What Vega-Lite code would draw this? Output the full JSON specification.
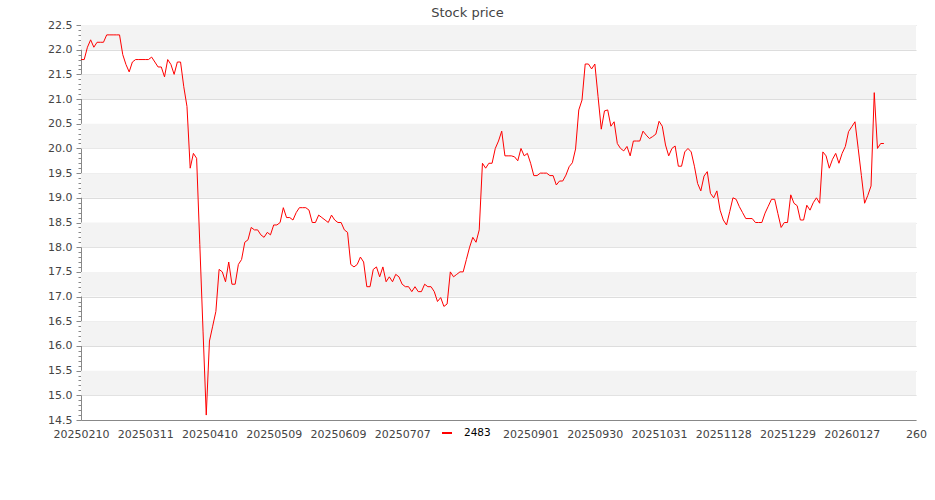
{
  "$schema": "https://vega.github.io/schema/vega-lite/v6.json",
  "width": 835,
  "height": 395,
  "autosize": {"type": "none"},
  "padding": {"left": 81, "top": 25, "right": 19, "bottom": 80},
  "background": "white",
  "title": {"text": "Stock price", "font": "DejaVu Sans", "fontSize": 13, "fontWeight": "normal", "color": "#444444", "anchor": "middle", "dx": -31, "offset": -1},
  "datasets": {
    "bands": [
      {"lo": 22.0, "hi": 22.5}, {"lo": 21.0, "hi": 21.5}, {"lo": 20.0, "hi": 20.5}, {"lo": 19.0, "hi": 19.5},
      {"lo": 18.0, "hi": 18.5}, {"lo": 17.0, "hi": 17.5}, {"lo": 16.0, "hi": 16.5}, {"lo": 15.0, "hi": 15.5}
    ],
    "prices": [
      {"i":0,"p":21.8},{"i":1,"p":21.8},{"i":2,"p":22.05},{"i":3,"p":22.2},{"i":4,"p":22.05},{"i":5,"p":22.15},{"i":6,"p":22.15},{"i":7,"p":22.15},{"i":8,"p":22.3},{"i":9,"p":22.3},
      {"i":10,"p":22.3},{"i":11,"p":22.3},{"i":12,"p":22.3},{"i":13,"p":21.9},{"i":14,"p":21.7},{"i":15,"p":21.55},{"i":16,"p":21.75},{"i":17,"p":21.8},{"i":18,"p":21.8},{"i":19,"p":21.8},
      {"i":20,"p":21.8},{"i":21,"p":21.8},{"i":22,"p":21.85},{"i":23,"p":21.75},{"i":24,"p":21.65},{"i":25,"p":21.65},{"i":26,"p":21.45},{"i":27,"p":21.8},{"i":28,"p":21.7},{"i":29,"p":21.5},
      {"i":30,"p":21.75},{"i":31,"p":21.75},{"i":32,"p":21.25},{"i":33,"p":20.85},{"i":34,"p":19.6},{"i":35,"p":19.9},{"i":36,"p":19.8},{"i":37,"p":18.05},{"i":38,"p":16.3},{"i":39,"p":14.6},
      {"i":40,"p":16.1},{"i":41,"p":16.4},{"i":42,"p":16.7},{"i":43,"p":17.55},{"i":44,"p":17.5},{"i":45,"p":17.3},{"i":46,"p":17.7},{"i":47,"p":17.25},{"i":48,"p":17.25},{"i":49,"p":17.65},
      {"i":50,"p":17.75},{"i":51,"p":18.1},{"i":52,"p":18.15},{"i":53,"p":18.4},{"i":54,"p":18.35},{"i":55,"p":18.35},{"i":56,"p":18.25},{"i":57,"p":18.2},{"i":58,"p":18.3},{"i":59,"p":18.25},
      {"i":60,"p":18.45},{"i":61,"p":18.45},{"i":62,"p":18.5},{"i":63,"p":18.8},{"i":64,"p":18.6},{"i":65,"p":18.6},{"i":66,"p":18.55},{"i":67,"p":18.7},{"i":68,"p":18.8},{"i":69,"p":18.8},
      {"i":70,"p":18.8},{"i":71,"p":18.75},{"i":72,"p":18.5},{"i":73,"p":18.5},{"i":74,"p":18.65},{"i":75,"p":18.6},{"i":76,"p":18.55},{"i":77,"p":18.5},{"i":78,"p":18.65},{"i":79,"p":18.55},
      {"i":80,"p":18.5},{"i":81,"p":18.5},{"i":82,"p":18.35},{"i":83,"p":18.3},{"i":84,"p":17.65},{"i":85,"p":17.6},{"i":86,"p":17.65},{"i":87,"p":17.8},{"i":88,"p":17.7},{"i":89,"p":17.2},
      {"i":90,"p":17.2},{"i":91,"p":17.55},{"i":92,"p":17.6},{"i":93,"p":17.4},{"i":94,"p":17.6},{"i":95,"p":17.3},{"i":96,"p":17.4},{"i":97,"p":17.3},{"i":98,"p":17.45},{"i":99,"p":17.4},
      {"i":100,"p":17.25},{"i":101,"p":17.2},{"i":102,"p":17.2},{"i":103,"p":17.1},{"i":104,"p":17.2},{"i":105,"p":17.1},{"i":106,"p":17.1},{"i":107,"p":17.25},{"i":108,"p":17.2},{"i":109,"p":17.2},
      {"i":110,"p":17.1},{"i":111,"p":16.9},{"i":112,"p":16.98},{"i":113,"p":16.8},{"i":114,"p":16.85},{"i":115,"p":17.5},{"i":116,"p":17.4},{"i":117,"p":17.45},{"i":118,"p":17.5},{"i":119,"p":17.5},
      {"i":120,"p":17.75},{"i":121,"p":18.0},{"i":122,"p":18.2},{"i":123,"p":18.1},{"i":124,"p":18.35},{"i":125,"p":19.7},{"i":126,"p":19.6},{"i":127,"p":19.7},{"i":128,"p":19.7},{"i":129,"p":20.0},
      {"i":130,"p":20.15},{"i":131,"p":20.35},{"i":132,"p":19.85},{"i":133,"p":19.85},{"i":134,"p":19.85},{"i":135,"p":19.83},{"i":136,"p":19.75},{"i":137,"p":20.0},{"i":138,"p":19.85},{"i":139,"p":19.9},
      {"i":140,"p":19.7},{"i":141,"p":19.45},{"i":142,"p":19.45},{"i":143,"p":19.5},{"i":144,"p":19.5},{"i":145,"p":19.5},{"i":146,"p":19.45},{"i":147,"p":19.45},{"i":148,"p":19.26},{"i":149,"p":19.34},
      {"i":150,"p":19.34},{"i":151,"p":19.46},{"i":152,"p":19.63},{"i":153,"p":19.71},{"i":154,"p":19.99},{"i":155,"p":20.78},{"i":156,"p":20.98},{"i":157,"p":21.71},{"i":158,"p":21.71},{"i":159,"p":21.61},
      {"i":160,"p":21.71},{"i":161,"p":21.05},{"i":162,"p":20.39},{"i":163,"p":20.76},{"i":164,"p":20.78},{"i":165,"p":20.45},{"i":166,"p":20.54},{"i":167,"p":20.1},{"i":168,"p":20.0},{"i":169,"p":19.95},
      {"i":170,"p":20.04},{"i":171,"p":19.85},{"i":172,"p":20.15},{"i":173,"p":20.15},{"i":174,"p":20.15},{"i":175,"p":20.35},{"i":176,"p":20.27},{"i":177,"p":20.2},{"i":178,"p":20.24},{"i":179,"p":20.29},
      {"i":180,"p":20.55},{"i":181,"p":20.45},{"i":182,"p":20.07},{"i":183,"p":19.85},{"i":184,"p":20.0},{"i":185,"p":20.05},{"i":186,"p":19.64},{"i":187,"p":19.64},{"i":188,"p":19.93},{"i":189,"p":20.0},
      {"i":190,"p":19.93},{"i":191,"p":19.64},{"i":192,"p":19.29},{"i":193,"p":19.14},{"i":194,"p":19.44},{"i":195,"p":19.53},{"i":196,"p":19.09},{"i":197,"p":19.0},{"i":198,"p":19.14},{"i":199,"p":18.75},
      {"i":200,"p":18.55},{"i":201,"p":18.45},{"i":202,"p":18.72},{"i":203,"p":19.0},{"i":204,"p":18.97},{"i":205,"p":18.82},{"i":206,"p":18.7},{"i":207,"p":18.58},{"i":208,"p":18.58},{"i":209,"p":18.58},
      {"i":210,"p":18.5},{"i":211,"p":18.5},{"i":212,"p":18.5},{"i":213,"p":18.69},{"i":214,"p":18.83},{"i":215,"p":18.97},{"i":216,"p":18.97},{"i":217,"p":18.68},{"i":218,"p":18.4},{"i":219,"p":18.5},
      {"i":220,"p":18.5},{"i":221,"p":19.06},{"i":222,"p":18.89},{"i":223,"p":18.84},{"i":224,"p":18.55},{"i":225,"p":18.55},{"i":226,"p":18.85},{"i":227,"p":18.75},{"i":228,"p":18.9},{"i":229,"p":19.0},
      {"i":230,"p":18.89},{"i":231,"p":19.93},{"i":232,"p":19.85},{"i":233,"p":19.6},{"i":234,"p":19.78},{"i":235,"p":19.9},{"i":236,"p":19.7},{"i":237,"p":19.9},{"i":238,"p":20.04},{"i":239,"p":20.34},
      {"i":240,"p":20.44},{"i":241,"p":20.54},{"i":242,"p":20.0},{"i":243,"p":19.45},{"i":244,"p":18.89},{"i":245,"p":19.05},{"i":246,"p":19.24},{"i":247,"p":21.13},{"i":248,"p":20.0},{"i":249,"p":20.1},
      {"i":250,"p":20.1}
    ]
  },
  "layer": [
    {
      "data": {"name": "bands"},
      "mark": {"type": "rect", "color": "#f3f3f3"},
      "encoding": {
        "y": {
          "field": "lo", "type": "quantitative",
          "scale": {"domain": [14.5, 22.5], "nice": false, "zero": false},
          "axis": {
            "title": null,
            "values": [14.5,14.6,14.7,14.8,14.9,15.0,15.1,15.2,15.3,15.4,15.5,15.6,15.7,15.8,15.9,16.0,16.1,16.2,16.3,16.4,16.5,16.6,16.7,16.8,16.9,17.0,17.1,17.2,17.3,17.4,17.5,17.6,17.7,17.8,17.9,18.0,18.1,18.2,18.3,18.4,18.5,18.6,18.7,18.8,18.9,19.0,19.1,19.2,19.3,19.4,19.5,19.6,19.7,19.8,19.9,20.0,20.1,20.2,20.3,20.4,20.5,20.6,20.7,20.8,20.9,21.0,21.1,21.2,21.3,21.4,21.5,21.6,21.7,21.8,21.9,22.0,22.1,22.2,22.3,22.4,22.5],
            "tickCount": 200,
            "labelExpr": "abs(datum.value*2 - round(datum.value*2)) < 0.01 ? format(datum.value, '.1f') : ''",
            "tickSize": {"condition": {"test": "abs(datum.value*2 - round(datum.value*2)) < 0.01", "value": 5}, "value": 3},
            "gridOpacity": {"condition": {"test": "abs(datum.value*2 - round(datum.value*2)) < 0.01", "value": 1}, "value": 0},
            "grid": true,
            "gridColor": "#dddddd",
            "labelPadding": 4,
            "domainColor": "#888888",
            "tickColor": "#888888",
            "labelFlush": false,
            "labelOverlap": false
          }
        },
        "y2": {"field": "hi"}
      }
    },
    {
      "data": {"name": "prices"},
      "mark": {"type": "line", "strokeWidth": 1, "clip": true},
      "encoding": {
        "x": {
          "field": "i", "type": "quantitative",
          "scale": {"domain": [0, 260], "nice": false, "zero": false},
          "axis": {
            "title": null,
            "values": [0, 20, 40, 60, 80, 100, 120, 140, 160, 180, 200, 220, 240, 260],
            "tickCount": 50,
            "labelExpr": "datum.value < 260 ? ['20250210','20250311','20250410','20250509','20250609','20250707','','20250901','20250930','20251031','20251128','20251229','20260127'][round(datum.value/20)] : '' + datum.value",
            "ticks": false,
            "tickSize": 0,
            "labelPadding": 8,
            "grid": false,
            "domainColor": "#888888",
            "labelFlush": false,
            "labelOverlap": false
          }
        },
        "y": {
          "field": "p", "type": "quantitative",
          "axis": {
            "title": null,
            "values": [14.5,14.6,14.7,14.8,14.9,15.0,15.1,15.2,15.3,15.4,15.5,15.6,15.7,15.8,15.9,16.0,16.1,16.2,16.3,16.4,16.5,16.6,16.7,16.8,16.9,17.0,17.1,17.2,17.3,17.4,17.5,17.6,17.7,17.8,17.9,18.0,18.1,18.2,18.3,18.4,18.5,18.6,18.7,18.8,18.9,19.0,19.1,19.2,19.3,19.4,19.5,19.6,19.7,19.8,19.9,20.0,20.1,20.2,20.3,20.4,20.5,20.6,20.7,20.8,20.9,21.0,21.1,21.2,21.3,21.4,21.5,21.6,21.7,21.8,21.9,22.0,22.1,22.2,22.3,22.4,22.5],
            "tickCount": 200,
            "labelExpr": "abs(datum.value*2 - round(datum.value*2)) < 0.01 ? format(datum.value, '.1f') : ''",
            "tickSize": {"condition": {"test": "abs(datum.value*2 - round(datum.value*2)) < 0.01", "value": 5}, "value": 3},
            "gridOpacity": {"condition": {"test": "abs(datum.value*2 - round(datum.value*2)) < 0.01", "value": 1}, "value": 0},
            "grid": true,
            "gridColor": "#dddddd",
            "labelPadding": 4,
            "domainColor": "#888888",
            "tickColor": "#888888",
            "labelFlush": false,
            "labelOverlap": false
          }
        },
        "color": {
          "datum": "2483", "type": "nominal",
          "scale": {"range": ["#ff0000"]},
          "legend": {
            "title": null,
            "orient": "none",
            "legendX": 356,
            "legendY": 398,
            "padding": 4,
            "fillColor": "white",
            "symbolType": "stroke",
            "symbolSize": 100,
            "symbolStrokeWidth": 2,
            "labelOffset": 11,
            "labelFont": "DejaVu Sans",
            "labelFontSize": 10.5,
            "labelColor": "#000000",
            "zindex": 5
          }
        }
      }
    }
  ],
  "config": {
    "view": {"stroke": null},
    "axis": {
      "labelFont": "DejaVu Sans",
      "labelFontSize": 11,
      "labelColor": "#444444",
      "domainWidth": 1
    }
  }
}
